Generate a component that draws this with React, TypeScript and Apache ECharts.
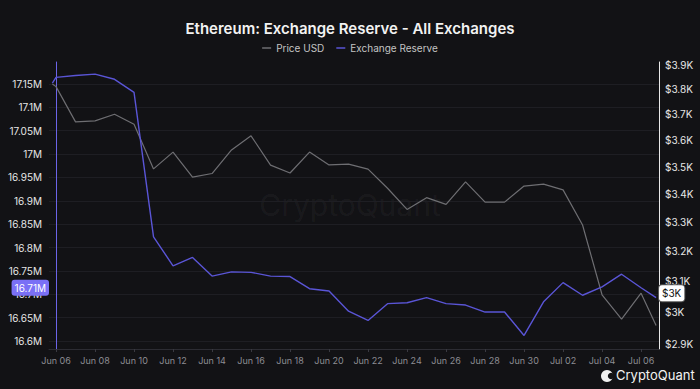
import React, { useEffect, useRef } from 'react';
import * as echarts from 'echarts';

// Observation times (UTC) – first and last are partial-day readings
const timestamps = [
  '2024-06-05 19:30', '2024-06-06 00:00', '2024-06-07 00:00', '2024-06-08 00:00', '2024-06-09 00:00',
  '2024-06-10 00:00', '2024-06-11 00:00', '2024-06-12 00:00', '2024-06-13 00:00', '2024-06-14 00:00',
  '2024-06-15 00:00', '2024-06-16 00:00', '2024-06-17 00:00', '2024-06-18 00:00', '2024-06-19 00:00',
  '2024-06-20 00:00', '2024-06-21 00:00', '2024-06-22 00:00', '2024-06-23 00:00', '2024-06-24 00:00',
  '2024-06-25 00:00', '2024-06-26 00:00', '2024-06-27 00:00', '2024-06-28 00:00', '2024-06-29 00:00',
  '2024-06-30 00:00', '2024-07-01 00:00', '2024-07-02 00:00', '2024-07-03 00:00', '2024-07-04 00:00',
  '2024-07-05 00:00', '2024-07-06 00:00', '2024-07-06 18:30',
];

// Price USD
const priceUSD = [
  3822, 3811, 3671, 3675, 3701, 3662, 3492, 3555, 3462, 3475, 3563, 3617, 3506, 3477, 3555, 3507,
  3510, 3491, 3421, 3345, 3387, 3363, 3444, 3371, 3371, 3429, 3436, 3415, 3290, 3055, 2977, 3060, 2957,
];

// Exchange Reserve (millions ETH)
const exchangeReserve = [
  17.152, 17.164, 17.168, 17.171, 17.160, 17.132, 16.823, 16.761, 16.779, 16.739, 16.748, 16.747,
  16.739, 16.738, 16.712, 16.707, 16.664, 16.644, 16.680, 16.682, 16.693, 16.680, 16.677, 16.662,
  16.662, 16.612, 16.684, 16.725, 16.698, 16.716, 16.743, 16.714, 16.693,
];

const reserveTicks = [16.6, 16.65, 16.7, 16.75, 16.8, 16.85, 16.9, 16.95, 17, 17.05, 17.1, 17.15];
const priceTicks = [2900, 3000, 3100, 3200, 3300, 3400, 3500, 3600, 3700, 3800, 3900];
const dayTicks = [0, 2, 4, 6, 8, 10, 12, 14, 16, 18, 20, 22, 24, 26, 28, 30];

const MONTHS = ['Jan', 'Feb', 'Mar', 'Apr', 'May', 'Jun', 'Jul', 'Aug', 'Sep', 'Oct', 'Nov', 'Dec'];
const DAY = 86400000;
const parseUTC = (s: string) => {
  const [d, t] = s.split(' ');
  const [y, m, dd] = d.split('-').map(Number);
  const [hh, mm] = t.split(':').map(Number);
  return Date.UTC(y, m - 1, dd, hh, mm);
};
const BASE = parseUTC('2024-06-06 00:00');
const toDay = (s: string) => (parseUTC(s) - BASE) / DAY;
const dayLabel = (d: number) => {
  const dt = new Date(BASE + Math.round(d) * DAY);
  return MONTHS[dt.getUTCMonth()] + ' ' + String(dt.getUTCDate()).padStart(2, '0');
};

const FONT = 'Inter, "Noto Sans", sans-serif';

export default function App() {
  const ref = useRef<HTMLDivElement>(null);
  useEffect(() => {
    document.body.style.margin = '0';
    document.body.style.background = '#121215';
    if (!ref.current) return;
    const chart = echarts.init(ref.current, undefined, { renderer: 'svg' });
    const xs = timestamps.map(toDay);
    const priceData = xs.map((x, i) => [x, Math.log(priceUSD[i])]);
    const reserveData = xs.map((x, i) => [x, exchangeReserve[i]]);
    const tagIdx = timestamps.length - 2;

    chart.setOption({
      animation: false,
      backgroundColor: '#121215',
      textStyle: { fontFamily: FONT },
      title: {
        text: 'Ethereum: Exchange Reserve - All Exchanges',
        left: 'center',
        top: 16,
        textStyle: { color: '#f2f2f2', fontSize: 15, fontWeight: 600, fontFamily: FONT },
      },
      legend: {
        top: 38,
        left: 'center',
        itemWidth: 9,
        itemHeight: 1.5,
        itemGap: 12,
        icon: 'rect',
        textStyle: { color: '#c4c4c4', fontSize: 10, fontFamily: FONT },
        data: ['Price USD', 'Exchange Reserve'],
      },
      grid: { left: 49, right: 41, top: 62, bottom: 40 },
      xAxis: {
        type: 'value',
        min: -0.36,
        max: 30.92,
        splitLine: { show: false },
        axisLine: { show: true, lineStyle: { color: '#2c2c33' } },
        axisTick: { show: true, customValues: dayTicks, length: 3, lineStyle: { color: '#3a3a42' } },
        axisLabel: {
          customValues: dayTicks,
          formatter: (v: number) => dayLabel(v),
          color: '#8d8d93',
          fontSize: 9,
          margin: 7,
          fontFamily: FONT,
        },
      },
      yAxis: [
        {
          type: 'value',
          position: 'left',
          min: 16.583,
          max: 17.197,
          axisLine: { show: true, lineStyle: { color: '#6c64e8', width: 1 } },
          axisTick: { show: false, customValues: reserveTicks },
          splitLine: { show: true, lineStyle: { color: '#1e1e23', width: 1 } },
          axisLabel: {
            customValues: reserveTicks,
            formatter: (v: number) => Number(v.toFixed(2)) + 'M',
            color: '#e6e6e6',
            fontSize: 10,
            margin: 7,
            fontFamily: FONT,
          },
          axisPointer: {
            show: true,
            status: 'show',
            value: exchangeReserve[tagIdx],
            snap: false,
            triggerTooltip: false,
            lineStyle: { opacity: 0 },
            label: {
              show: true,
              formatter: (p: any) => Number(p.value).toFixed(2) + 'M',
              backgroundColor: '#7a70f6',
              color: '#ffffff',
              fontSize: 10,
              padding: [3, 3],
              margin: 0,
              fontFamily: FONT,
            },
          },
        },
        {
          type: 'value',
          position: 'right',
          min: Math.log(2884),
          max: Math.log(3912),
          axisLine: { show: true, lineStyle: { color: '#e8e8e8', width: 1 } },
          axisTick: { show: false, customValues: priceTicks.map(Math.log) },
          splitLine: { show: false },
          axisLabel: {
            customValues: priceTicks.map(Math.log),
            formatter: (v: number) => '$' + Math.round(Math.exp(v) / 100) / 10 + 'K',
            color: '#e6e6e6',
            fontSize: 10,
            margin: 6,
            fontFamily: FONT,
          },
          axisPointer: {
            show: true,
            status: 'show',
            value: Math.log(priceUSD[tagIdx]),
            snap: false,
            triggerTooltip: false,
            lineStyle: { opacity: 0 },
            label: {
              show: true,
              formatter: (p: any) => '$' + Math.round(Math.exp(Number(p.value)) / 1000) + 'K',
              backgroundColor: '#ffffff',
              color: '#111111',
              fontSize: 10,
              padding: [3, 3],
              margin: 0,
              borderColor: '#555',
              borderWidth: 1,
              fontFamily: FONT,
            },
          },
        },
      ],
      graphic: [
        {
          type: 'text',
          left: 'center',
          top: 190,
          silent: true,
          style: {
            text: 'CryptoQuant',
            fill: 'rgba(255,255,255,0.05)',
            font: '400 30px ' + FONT,
          },
        },
        { type: 'circle', shape: { cx: 607, cy: 376, r: 6 }, style: { fill: '#f0f0f0' } },
        { type: 'circle', shape: { cx: 611, cy: 376, r: 3.2 }, style: { fill: '#121215' } },
        {
          type: 'text',
          x: 616,
          y: 368,
          style: { text: 'CryptoQuant', fill: '#f2f2f2', font: '13px ' + FONT },
        },
      ],
      series: [
        {
          name: 'Price USD',
          type: 'line',
          yAxisIndex: 1,
          data: priceData,
          showSymbol: false,
          lineStyle: { color: '#6e6e72', width: 1.2 },
          itemStyle: { color: '#6e6e72' },
          z: 2,
        },
        {
          name: 'Exchange Reserve',
          type: 'line',
          yAxisIndex: 0,
          data: reserveData,
          showSymbol: false,
          lineStyle: { color: '#5a55d6', width: 1.4 },
          itemStyle: { color: '#5a55d6' },
          z: 3,
        },
      ],
    });
    return () => chart.dispose();
  }, []);
  return (
    <div
      ref={ref}
      style={{ position: 'absolute', left: 0, top: 0, width: 700, height: 389, background: '#121215' }}
    />
  );
}
